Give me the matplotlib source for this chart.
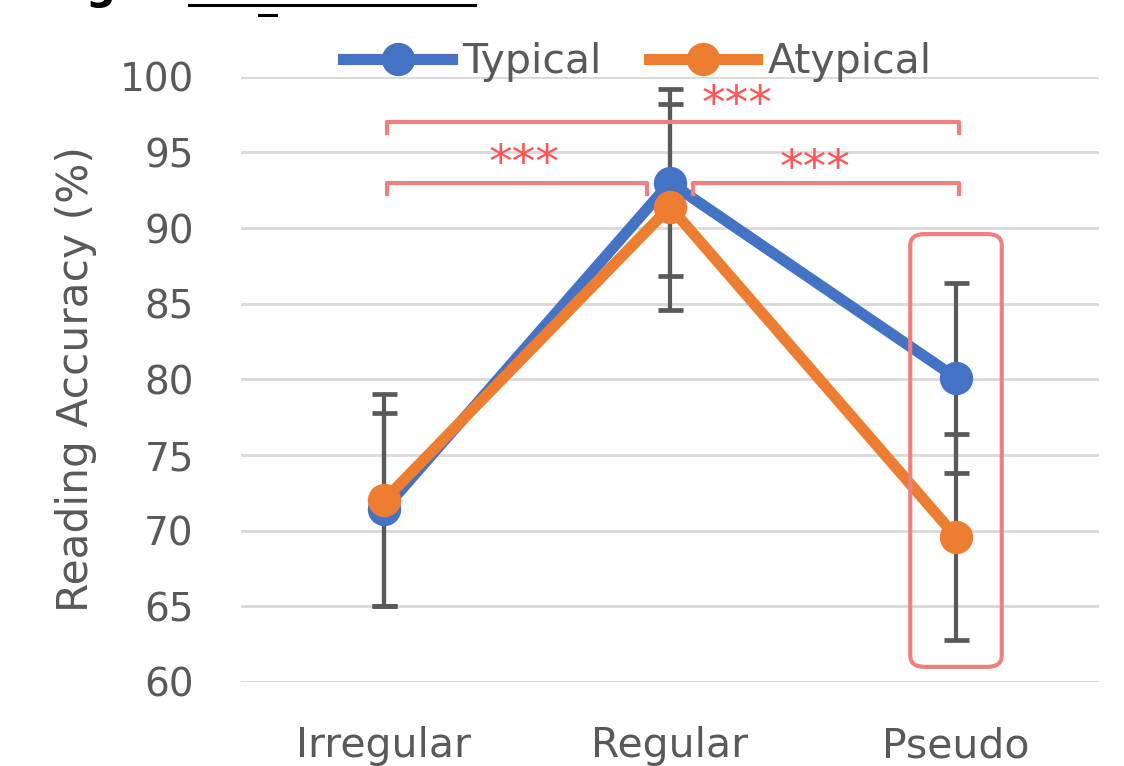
import matplotlib
matplotlib.use("Agg")
from matplotlib import pyplot as plt
from matplotlib.patches import FancyBboxPatch
from matplotlib.lines import Line2D

plt.rcParams['font.family'] = ['DejaVu Sans']

# data
conditions = ['Irregular', 'Regular', 'Pseudo']
typical = [71.4, 93.0, 80.1]
typical_err = [6.4, 6.2, 6.3]
atypical = [72.0, 91.4, 69.6]
atypical_err = [7.0, 6.8, 6.8]
y_ticks = [60, 65, 70, 75, 80, 85, 90, 95, 100]

# significance brackets: (left condition, right condition, height)
brackets = [(0, 2, 97.0), (0, 1, 93.0), (1, 2, 93.0)]
# star labels: (x, baseline y)
star_pos = [(1.234, 97.28), (0.49, 93.38), (1.507, 93.05)]
stars = '***'

blue = '#4472C4'
orange = '#ED7D31'
grey = '#595959'
salmon = '#F07F7F'
star_red = '#FF5757'
fs = 29.5

fig = plt.figure(figsize=(11.24, 7.66), dpi=100)
ax = fig.add_axes([241 / 1124, 1 - 682 / 766, 858 / 1124, 605.3 / 766])

x = list(range(len(conditions)))

ax.errorbar(x, typical, yerr=typical_err, fmt='none', ecolor=grey,
            elinewidth=3, capsize=9, capthick=3.4, zorder=2)
ax.errorbar(x, atypical, yerr=atypical_err, fmt='none', ecolor=grey,
            elinewidth=3, capsize=9, capthick=3.4, zorder=2)
ax.plot(x, typical, '-o', color=blue, lw=8, ms=23, label='Typical', zorder=3)
ax.plot(x, atypical, '-o', color=orange, lw=8, ms=23, label='Atypical', zorder=4)

ax.set_xlim(-0.5, 2.5)
ax.set_ylim(60, 100)
ax.set_yticks(y_ticks)
ax.set_xticks(x)
ax.set_xticklabels(conditions)
ax.tick_params(axis='both', length=0, colors=grey)
ax.tick_params(axis='y', pad=34, labelsize=28)
ax.tick_params(axis='x', pad=32, labelsize=fs)
ax.grid(axis='y', color='#D9D9D9', lw=2)
ax.set_axisbelow(True)
for s in ax.spines.values():
    s.set_visible(False)

ax.set_ylabel('Reading Accuracy (%)', fontsize=fs + 1, color=grey)
ax.yaxis.set_label_coords(-0.168, 0.5)

leg = ax.legend(loc='center', bbox_to_anchor=(0.462, 1.024), ncol=2,
                frameon=False, fontsize=fs, handlelength=2.65,
                handletextpad=0.25, columnspacing=1.15, borderaxespad=0)
for t in leg.get_texts():
    t.set_color(grey)

# brackets with stars
tick_h = 0.75
for a, b, h in brackets:
    left = a + 0.01 if a == 0 else a + 0.08
    right = b - 0.08 if b == 1 else b + 0.01
    ax.plot([left, left, right, right], [h - tick_h, h, h, h - tick_h],
            color=salmon, lw=3, solid_joinstyle='round', clip_on=False, zorder=5)

for sx, sy in star_pos:
    ax.text(sx, sy, stars, ha='center', va='baseline', fontsize=34,
            color=star_red)

# highlight box around Pseudo
box = FancyBboxPatch((1.88, 61.6), 0.24, 27.4,
                     boxstyle='round,pad=0.04,rounding_size=0.05',
                     mutation_aspect=15, fill=False, ec=salmon, lw=3,
                     clip_on=False, zorder=6)
ax.add_patch(box)

# cropped caption at the very top
fig.text(85 / 1124, 1 + 1 / 766, 'g', fontsize=30, fontweight='bold',
         ha='left', va='baseline', color='black')
fig.add_artist(Line2D([189 / 1124, 475 / 1124], [1 - 5 / 766, 1 - 5 / 766],
                      color='black', lw=2.2))
fig.add_artist(Line2D([259 / 1124, 276 / 1124], [1 - 15 / 766, 1 - 15 / 766],
                      color='black', lw=2.2))

fig.savefig('out.png', dpi=100)
